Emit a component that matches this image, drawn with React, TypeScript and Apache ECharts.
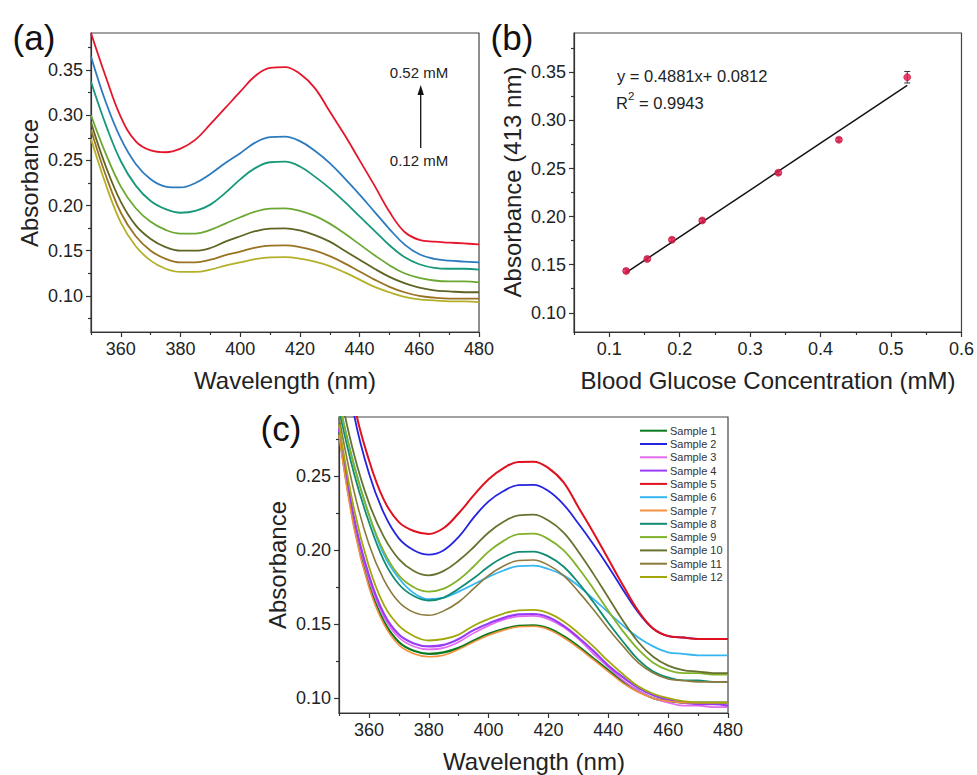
import React, { useEffect, useRef } from "react";
import * as echarts from "echarts";

// ---------- shared wavelength grid (nm) ----------
const wavelengths = [350, 355, 360, 365, 370, 375, 380, 385, 390, 395, 400, 405, 410, 415, 420, 425, 430, 435, 440, 445, 450, 455, 460, 465, 470, 475, 480];

// ---------- panel (a): spectra at increasing glucose ----------
const a052 = [0.391, 0.342, 0.298, 0.271, 0.261, 0.259, 0.263, 0.273, 0.290, 0.308, 0.326, 0.3434, 0.3525, 0.3533, 0.3459, 0.330, 0.304, 0.278, 0.250, 0.222, 0.193, 0.171, 0.162, 0.160, 0.159, 0.158, 0.157];
const a043 = [0.365, 0.314, 0.274, 0.246, 0.229, 0.221, 0.220, 0.225, 0.235, 0.247, 0.258, 0.2696, 0.2757, 0.2763, 0.2713, 0.2607, 0.247, 0.230, 0.212, 0.193, 0.174, 0.157, 0.146, 0.141, 0.139, 0.138, 0.137];
const a034 = [0.337, 0.289, 0.249, 0.222, 0.205, 0.196, 0.192, 0.194, 0.201, 0.214, 0.229, 0.2414, 0.2479, 0.2485, 0.2432, 0.232, 0.219, 0.204, 0.188, 0.172, 0.156, 0.143, 0.135, 0.131, 0.130, 0.130, 0.129];
const a023 = [0.300, 0.257, 0.221, 0.197, 0.182, 0.173, 0.169, 0.169, 0.173, 0.180, 0.187, 0.1932, 0.1965, 0.1968, 0.1941, 0.1885, 0.180, 0.169, 0.157, 0.145, 0.134, 0.125, 0.120, 0.117, 0.116, 0.116, 0.115];
const a019 = [0.292, 0.243, 0.204, 0.178, 0.163, 0.154, 0.150, 0.150, 0.153, 0.160, 0.166, 0.1716, 0.1745, 0.1748, 0.1724, 0.1673, 0.160, 0.150, 0.140, 0.130, 0.121, 0.114, 0.109, 0.106, 0.105, 0.104, 0.104];
const a015 = [0.284, 0.233, 0.192, 0.166, 0.150, 0.141, 0.137, 0.137, 0.140, 0.145, 0.149, 0.1533, 0.1556, 0.1558, 0.154, 0.150, 0.144, 0.136, 0.127, 0.118, 0.110, 0.104, 0.100, 0.098, 0.097, 0.097, 0.097];
const a012 = [0.274, 0.223, 0.181, 0.155, 0.139, 0.130, 0.1265, 0.1265, 0.129, 0.1335, 0.137, 0.1407, 0.1427, 0.1429, 0.1413, 0.1379, 0.133, 0.126, 0.118, 0.110, 0.104, 0.099, 0.096, 0.095, 0.094, 0.094, 0.093];
const aSeries = [a052, a043, a034, a023, a019, a015, a012];
const aNames = ["0.52 mM", "0.43 mM", "0.34 mM", "0.23 mM", "0.19 mM", "0.15 mM", "0.12 mM"];
const aColors = ["#e5162b", "#2c7bbf", "#17987a", "#6aa832", "#5f6422", "#9a7322", "#b4b02a"];

// ---------- panel (b): calibration ----------
const concentrations = [0.124, 0.154, 0.189, 0.232, 0.340, 0.426, 0.523];
const absorbance413 = [0.1435, 0.156, 0.176, 0.196, 0.2457, 0.280, 0.345];
const absErrors = [0.002, 0.002, 0.002, 0.002, 0.002, 0.002, 0.006];
const fitLineX = [0.124, 0.523];
const fitLineY = [0.1417, 0.3365];

// ---------- panel (c): samples ----------
const s1 = [0.280, 0.218, 0.177, 0.152, 0.138, 0.132, 0.130, 0.131, 0.134, 0.139, 0.1435, 0.1467, 0.1489, 0.1492, 0.1472, 0.142, 0.135, 0.127, 0.119, 0.111, 0.105, 0.100, 0.098, 0.097, 0.097, 0.097, 0.097];
const s2 = [0.360, 0.292, 0.252, 0.225, 0.208, 0.200, 0.197, 0.200, 0.209, 0.222, 0.233, 0.2400, 0.2440, 0.2442, 0.2400, 0.231, 0.218, 0.204, 0.189, 0.173, 0.158, 0.147, 0.142, 0.141, 0.140, 0.140, 0.140];
const s3 = [0.283, 0.220, 0.180, 0.155, 0.141, 0.135, 0.133, 0.134, 0.138, 0.144, 0.149, 0.1530, 0.1553, 0.1556, 0.1534, 0.148, 0.140, 0.130, 0.121, 0.112, 0.105, 0.100, 0.097, 0.095, 0.095, 0.094, 0.094];
const s4 = [0.282, 0.222, 0.183, 0.157, 0.143, 0.137, 0.135, 0.136, 0.140, 0.146, 0.1505, 0.1543, 0.1566, 0.1569, 0.1547, 0.149, 0.141, 0.132, 0.122, 0.114, 0.107, 0.102, 0.099, 0.097, 0.096, 0.096, 0.095];
const s5 = [0.380, 0.300, 0.261, 0.234, 0.219, 0.213, 0.211, 0.215, 0.225, 0.237, 0.248, 0.2555, 0.2596, 0.2598, 0.2555, 0.246, 0.229, 0.212, 0.194, 0.176, 0.159, 0.147, 0.142, 0.141, 0.140, 0.140, 0.140];
const s6 = [0.300, 0.258, 0.224, 0.197, 0.181, 0.171, 0.167, 0.168, 0.172, 0.177, 0.182, 0.1863, 0.1893, 0.1896, 0.1873, 0.183, 0.176, 0.167, 0.158, 0.149, 0.141, 0.135, 0.131, 0.130, 0.129, 0.129, 0.129];
const s7 = [0.278, 0.215, 0.175, 0.150, 0.136, 0.130, 0.128, 0.129, 0.133, 0.138, 0.1425, 0.1460, 0.1483, 0.1486, 0.1465, 0.141, 0.134, 0.126, 0.118, 0.110, 0.104, 0.100, 0.098, 0.097, 0.097, 0.097, 0.097];
const s8 = [0.295, 0.252, 0.219, 0.193, 0.177, 0.169, 0.166, 0.168, 0.174, 0.181, 0.189, 0.1952, 0.1988, 0.1991, 0.1958, 0.189, 0.178, 0.165, 0.151, 0.138, 0.126, 0.118, 0.114, 0.112, 0.112, 0.111, 0.111];
const s9 = [0.300, 0.257, 0.224, 0.199, 0.183, 0.175, 0.172, 0.174, 0.180, 0.189, 0.199, 0.2063, 0.2108, 0.2112, 0.2075, 0.200, 0.188, 0.174, 0.159, 0.145, 0.133, 0.124, 0.119, 0.117, 0.117, 0.116, 0.116];
const s10 = [0.310, 0.265, 0.232, 0.209, 0.194, 0.186, 0.183, 0.186, 0.193, 0.202, 0.212, 0.2192, 0.2236, 0.2240, 0.2200, 0.212, 0.199, 0.184, 0.168, 0.152, 0.138, 0.128, 0.122, 0.119, 0.118, 0.117, 0.117];
const s11 = [0.290, 0.240, 0.204, 0.180, 0.165, 0.158, 0.156, 0.159, 0.165, 0.174, 0.183, 0.1893, 0.1930, 0.1934, 0.1899, 0.183, 0.172, 0.160, 0.147, 0.135, 0.124, 0.117, 0.113, 0.112, 0.111, 0.111, 0.111];
const s12 = [0.285, 0.228, 0.189, 0.163, 0.149, 0.142, 0.139, 0.140, 0.143, 0.149, 0.1535, 0.1572, 0.1594, 0.1597, 0.1575, 0.152, 0.144, 0.135, 0.125, 0.116, 0.108, 0.103, 0.100, 0.098, 0.097, 0.097, 0.097];
const cSeries = [s1, s2, s3, s4, s5, s6, s7, s8, s9, s10, s11, s12];
const cNames = ["Sample 1", "Sample 2", "Sample 3", "Sample 4", "Sample 5", "Sample 6", "Sample 7", "Sample 8", "Sample 9", "Sample 10", "Sample 11", "Sample 12"];
const cColors = ["#0b7a1e", "#2424e0", "#e46af2", "#9b3cf5", "#e0101e", "#35b6f2", "#f2913f", "#0f8c72", "#82b22a", "#66722e", "#8c7a3c", "#a2a80a"];
const cWidths = [2.2, 1.8, 1.6, 2.2, 2, 1.8, 1.6, 1.8, 1.8, 1.8, 1.6, 1.8];

// ---------- ticks ----------
const wlMajor = [360, 380, 400, 420, 440, 460, 480];
const wlMinor = [350, 370, 390, 410, 430, 450, 470];
const aYMajor = [0.10, 0.15, 0.20, 0.25, 0.30, 0.35];
const aYMinor = [0.075, 0.125, 0.175, 0.225, 0.275, 0.325, 0.375];
const bXMajor = [0.1, 0.2, 0.3, 0.4, 0.5, 0.6];
const bXMinor = [0.05, 0.15, 0.25, 0.35, 0.45, 0.55];
const bYMajor = [0.10, 0.15, 0.20, 0.25, 0.30, 0.35];
const bYMinor = [0.125, 0.175, 0.225, 0.275, 0.325, 0.375];
const cYMajor = [0.10, 0.15, 0.20, 0.25];
const cYMinor = [0.125, 0.175, 0.225, 0.275];

const FONT = "'Liberation Sans', Arial, Helvetica, sans-serif";
const AXIS_COLOR = "#333";
const SMOOTH = 0.4;

function axisPair(kind: "x" | "y", gridIndex: number, min: number, max: number, major: number[], minor: number[], fmt: (v: number) => string) {
  const pos = kind === "x" ? "bottom" : "left";
  const main: any = {
    type: "value",
    gridIndex,
    min,
    max,
    position: pos,
    offset: 0,
    axisLine: { show: true, onZero: false, lineStyle: { color: AXIS_COLOR, width: 1.2 } },
    axisTick: { show: true, inside: false, length: 5, customValues: major, lineStyle: { color: AXIS_COLOR, width: 1.2 } },
    axisLabel: { show: true, customValues: major, formatter: fmt, fontSize: 18, color: "#222", fontFamily: FONT, margin: 8, hideOverlap: false, showMinLabel: true, showMaxLabel: true },
    splitLine: { show: false },
  };
  const sub: any = {
    type: "value",
    gridIndex,
    min,
    max,
    position: pos,
    offset: 0,
    axisLine: { show: false, onZero: false },
    axisTick: { show: true, inside: false, length: 3, customValues: minor, lineStyle: { color: AXIS_COLOR, width: 1.2 } },
    axisLabel: { show: false },
    splitLine: { show: false },
  };
  return [main, sub];
}

function pairData(xs: number[], ys: number[]) {
  return xs.map((x, i) => [x, ys[i]]);
}

export default function App() {
  const ref = useRef<HTMLDivElement>(null);

  useEffect(() => {
    document.body.style.margin = "0";
    if (!ref.current) return;
    const chart = echarts.init(ref.current, null, { renderer: "svg" });

    const grids = [
      { left: 91, top: 33, width: 388, height: 299 },
      { left: 574, top: 33, width: 388, height: 299 },
      { left: 339, top: 417, width: 389, height: 296 },
    ].map((g) => ({ ...g, show: true, borderColor: "#444", borderWidth: 1.2, backgroundColor: "transparent", containLabel: false }));

    const f2 = (v: number) => v.toFixed(2);
    const f1 = (v: number) => v.toFixed(1);
    const f0 = (v: number) => String(Math.round(v));

    const xAxes = [
      ...axisPair("x", 0, 350, 480, wlMajor, wlMinor, f0),
      ...axisPair("x", 1, 0.05, 0.6, bXMajor, bXMinor, f1),
      ...axisPair("x", 2, 350, 480, wlMajor, wlMinor, f0),
    ];
    const yAxes = [
      ...axisPair("y", 0, 0.06, 0.391, aYMajor, aYMinor, f2),
      ...axisPair("y", 1, 0.08, 0.391, bYMajor, bYMinor, f2),
      ...axisPair("y", 2, 0.09, 0.29, cYMajor, cYMinor, f2),
    ];

    const series: any[] = [];
    aSeries.forEach((vals, i) => {
      series.push({
        type: "line",
        name: aNames[i],
        xAxisIndex: 0,
        yAxisIndex: 0,
        data: pairData(wavelengths, vals),
        symbol: "none",
        smooth: SMOOTH,
        clip: true,
        lineStyle: { color: aColors[i], width: 1.8 },
        itemStyle: { color: aColors[i] },
        z: 3,
      });
    });

    // panel b
    series.push({
      type: "line",
      name: "Linear fit",
      xAxisIndex: 2,
      yAxisIndex: 2,
      data: pairData(fitLineX, fitLineY),
      symbol: "none",
      lineStyle: { color: "#111", width: 1.5 },
      z: 3,
    });
    series.push({
      type: "custom",
      name: "Error",
      xAxisIndex: 2,
      yAxisIndex: 2,
      data: concentrations.map((c, i) => [c, absorbance413[i] - absErrors[i], absorbance413[i] + absErrors[i]]),
      renderItem: (_params: any, api: any) => {
        const x = api.value(0);
        const p1 = api.coord([x, api.value(1)]);
        const p2 = api.coord([x, api.value(2)]);
        const cap = 3;
        const st = { stroke: "#333", lineWidth: 1 };
        return {
          type: "group",
          children: [
            { type: "line", shape: { x1: p1[0], y1: p1[1], x2: p2[0], y2: p2[1] }, style: st },
            { type: "line", shape: { x1: p1[0] - cap, y1: p1[1], x2: p1[0] + cap, y2: p1[1] }, style: st },
            { type: "line", shape: { x1: p2[0] - cap, y1: p2[1], x2: p2[0] + cap, y2: p2[1] }, style: st },
          ],
        };
      },
      z: 4,
    });
    series.push({
      type: "scatter",
      name: "Absorbance at 413 nm",
      xAxisIndex: 2,
      yAxisIndex: 2,
      data: pairData(concentrations, absorbance413),
      symbol: "circle",
      symbolSize: 7,
      itemStyle: { color: "#e8174b", borderColor: "#c0103a", borderWidth: 0.8 },
      z: 5,
    });

    // panel c
    cSeries.forEach((vals, i) => {
      series.push({
        type: "line",
        name: cNames[i],
        xAxisIndex: 4,
        yAxisIndex: 4,
        data: pairData(wavelengths, vals),
        symbol: "none",
        smooth: SMOOTH,
        clip: true,
        lineStyle: { color: cColors[i], width: cWidths[i] },
        itemStyle: { color: cColors[i] },
        z: 3,
      });
    });

    const textStyle = (text: string, size: number, extra: any = {}) => ({
      text,
      font: `${size}px ${FONT}`,
      fill: "#222",
      align: "center",
      verticalAlign: "middle",
      ...extra,
    });

    const graphic: any[] = [
      // panel labels
      { type: "text", x: 34, y: 37, style: textStyle("(a)", 35, { fill: "#111" }) },
      { type: "text", x: 512, y: 37, style: textStyle("(b)", 35, { fill: "#111" }) },
      { type: "text", x: 281, y: 428, style: textStyle("(c)", 35, { fill: "#111" }) },
      // axis titles
      { type: "text", x: 29, y: 183, rotation: Math.PI / 2, style: textStyle("Absorbance", 24) },
      { type: "text", x: 285, y: 380, style: textStyle("Wavelength (nm)", 24) },
      { type: "text", x: 512, y: 182, rotation: Math.PI / 2, style: textStyle("Absorbance (413 nm)", 24) },
      { type: "text", x: 768, y: 380, style: textStyle("Blood Glucose Concentration (mM)", 24) },
      { type: "text", x: 277, y: 565, rotation: Math.PI / 2, style: textStyle("Absorbance", 24) },
      { type: "text", x: 534, y: 761, style: textStyle("Wavelength (nm)", 24) },
      // panel a annotation
      { type: "text", x: 419, y: 72, style: textStyle("0.52 mM", 15) },
      { type: "text", x: 419, y: 160, style: textStyle("0.12 mM", 15) },
      { type: "line", shape: { x1: 420.7, y1: 148, x2: 420.7, y2: 93 }, style: { stroke: "#111", lineWidth: 1.3 } },
      { type: "polygon", shape: { points: [[417.5, 95], [423.9, 95], [420.7, 85]] }, style: { fill: "#111" } },
      // panel b equation
      { type: "text", x: 617, y: 76, style: textStyle("y = 0.4881x+ 0.0812", 16.5, { align: "left" }) },
      { type: "text", x: 616, y: 103, style: textStyle("R", 16.5, { align: "left" }) },
      { type: "text", x: 628, y: 96, style: textStyle("2", 11.5, { align: "left" }) },
      { type: "text", x: 639, y: 103, style: textStyle("= 0.9943", 16.5, { align: "left" }) },
    ];

    chart.setOption({
      animation: false,
      backgroundColor: "#ffffff",
      grid: grids,
      xAxis: xAxes,
      yAxis: yAxes,
      series,
      legend: {
        show: true,
        data: cNames.map((n) => ({ name: n, icon: "rect" })),
        orient: "vertical",
        left: 640,
        top: 424.7,
        itemWidth: 27,
        itemHeight: 2,
        itemGap: 1.3,
        padding: 0,
        selectedMode: false,
        textStyle: { fontSize: 11, color: "#333", fontFamily: FONT, lineHeight: 12, height: 12, padding: [0, 0, 0, -2] },
      },
      graphic,
    });

    return () => chart.dispose();
  }, []);

  return <div ref={ref} style={{ width: 977, height: 775 }} />;
}
